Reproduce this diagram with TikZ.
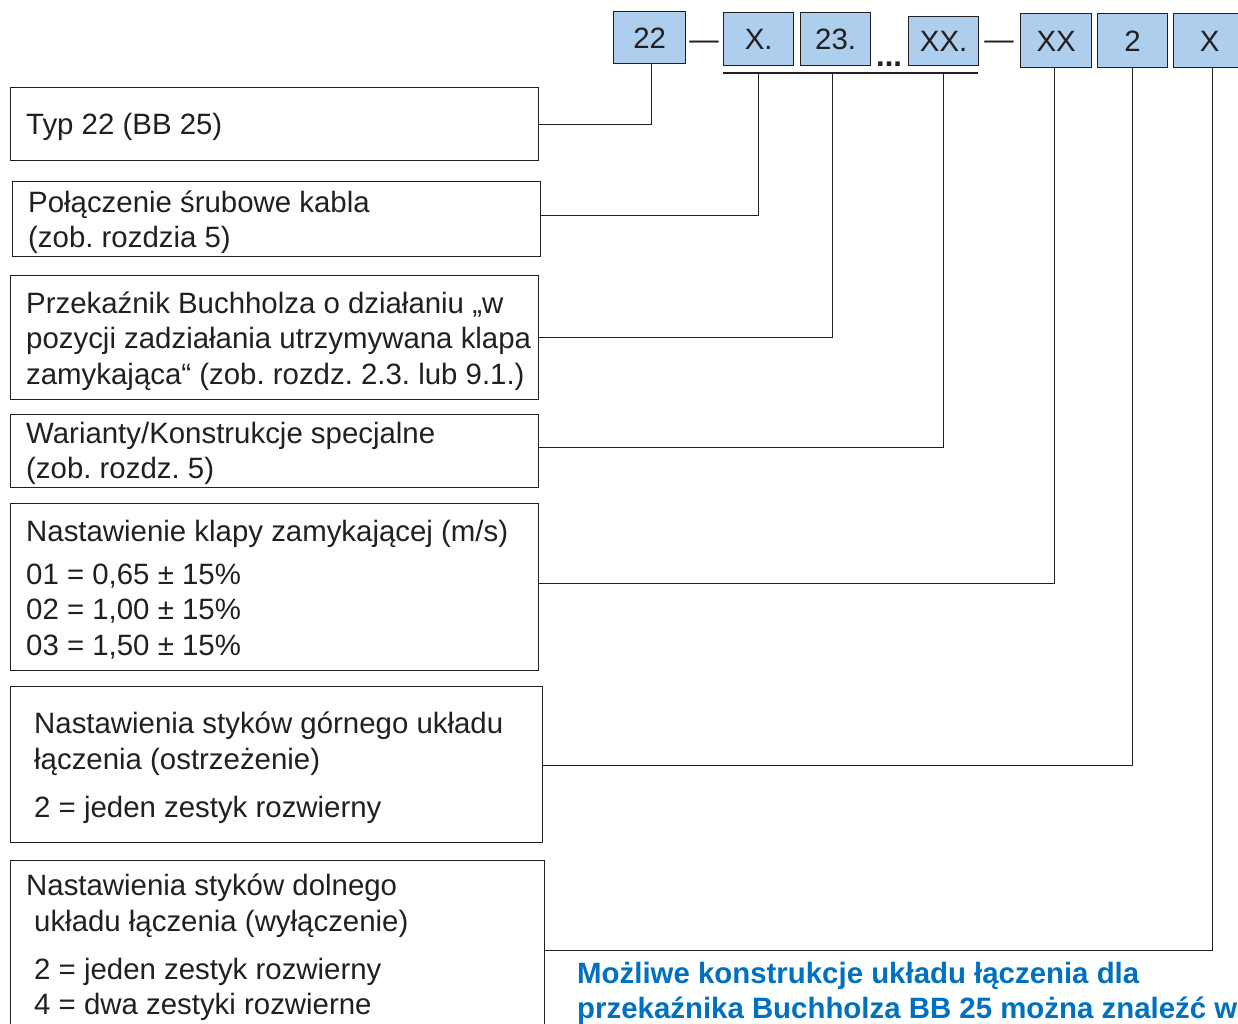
\documentclass[tikz,border=0pt]{standalone}
\usepackage{fontspec}
\setmainfont{Liberation Sans}
\definecolor{boxblue}{RGB}{173,206,236}
\definecolor{txtblue}{RGB}{0,112,192}
\definecolor{ink}{RGB}{35,31,32}
\frenchspacing
\begin{document}
\begin{tikzpicture}[x=1pt,y=-1pt,
  box/.style={draw=ink, line width=1.3pt, rectangle, anchor=north west, inner sep=0pt},
  code/.style={box, fill=boxblue, font=\fontsize{29.4}{35}\selectfont, text=ink, text height=21pt, text depth=0pt, anchor=north west},
  lbl/.style={anchor=base west, inner sep=0pt, font=\fontsize{29.4}{35}\selectfont, text=ink},
  conn/.style={draw=ink, line width=1.2pt},
  note/.style={anchor=base west, inner sep=0pt, font=\fontsize{29.4}{35}\selectfont\bfseries, text=txtblue}]
\useasboundingbox (0,0) rectangle (1238,1023);
\fill[white] (0,0) rectangle (1238,1023);

% code boxes
\node[code, minimum width=72pt, minimum height=52pt] (t22) at (613,11) {22};
\node[code, minimum width=70pt, minimum height=53pt] (tX1) at (723,12) {X.};
\node[code, minimum width=70pt, minimum height=53pt] (t23) at (800,12) {23.};
\node[code, minimum width=70pt, minimum height=49pt] (tXX1) at (908,16) {XX.};
\node[code, minimum width=71pt, minimum height=54pt] (tXX) at (1020,13) {XX};
\node[code, minimum width=70pt, minimum height=54pt] (t2) at (1097,13) {2};
\node[code, minimum width=72pt, minimum height=54pt] (tX) at (1173,13) {X};
\node[lbl, anchor=base] (d1) at (704,49) {—};
\node[lbl, anchor=base] (d2) at (999,49) {—};
\node[lbl, font=\fontsize{31}{35}\selectfont\bfseries] (dots) at (876,66) {...};

\coordinate (barL) at (723,73);
\coordinate (barR) at (978,73);
\draw[conn] (barL) -- (barR);

% left boxes
\node[box, minimum width=528pt, minimum height=73pt] (b1) at (10,87) {};
\node[box, minimum width=528pt, minimum height=75pt] (b2) at (12,181) {};
\node[box, minimum width=528pt, minimum height=124pt] (b3) at (10,275) {};
\node[box, minimum width=528pt, minimum height=73pt] (b4) at (10,414) {};
\node[box, minimum width=528pt, minimum height=167pt] (b5) at (10,503) {};
\node[box, minimum width=532pt, minimum height=156pt] (b6) at (10,686) {};
\node[box, minimum width=534pt, minimum height=180pt] (b7) at (10,860) {};

% texts
\node[lbl] (l1) at (26,134) {Typ 22 (BB 25)};
\node[lbl] (l2a) at (28,212) {Połączenie śrubowe kabla};
\node[lbl] (l2b) at (28,247) {(zob. rozdzia 5)};
\node[lbl] (l3a) at (26,313) {Przekaźnik Buchholza o działaniu „w};
\node[lbl] (l3b) at (26,348) {pozycji zadziałania utrzymywana klapa};
\node[lbl] (l3c) at (26,384) {zamykająca“ (zob. rozdz. 2.3. lub 9.1.)};
\node[lbl] (l4a) at (26,443) {Warianty/Konstrukcje specjalne};
\node[lbl] (l4b) at (26,478) {(zob. rozdz. 5)};
\node[lbl] (l5a) at (26,541) {Nastawienie klapy zamykającej (m/s)};
\node[lbl] (l5b) at (26,584) {01 = 0,65 ± 15\%};
\node[lbl] (l5c) at (26,619) {02 = 1,00 ± 15\%};
\node[lbl] (l5d) at (26,655) {03 = 1,50 ± 15\%};
\node[lbl] (l6a) at (34,733) {Nastawienia styków górnego układu};
\node[lbl] (l6b) at (34,769) {łączenia (ostrzeżenie)};
\node[lbl] (l6c) at (34,817) {2 = jeden zestyk rozwierny};
\node[lbl] (l7a) at (26,895) {Nastawienia styków dolnego};
\node[lbl] (l7b) at (34,931) {układu łączenia (wyłączenie)};
\node[lbl] (l7c) at (34,979) {2 = jeden zestyk rozwierny};
\node[lbl] (l7d) at (34,1014) {4 = dwa zestyki rozwierne};
\node[note] (n1) at (577,983) {Możliwe konstrukcje układu łączenia dla};
\node[note] (n2) at (577,1018) {przekaźnika Buchholza BB 25 można znaleźć w};

% connectors
\draw[conn] ([xshift=2pt]t22.south) |- (b1.east);
\draw[conn] (tX1.south |- barL) |- ([yshift=3.5pt]b2.east);
\draw[conn] ([xshift=-3pt]t23.south |- barL) |- (b3.east);
\draw[conn] (tXX1.south |- barL) |- ([yshift=3.5pt]b4.east);
\draw[conn] ([xshift=-2pt]tXX.south) |- ([yshift=3.5pt]b5.east);
\draw[conn] (t2.south) |- ([yshift=-1pt]b6.east);
\draw[conn] ([xshift=3pt]tX.south) |- (b7.east);
\end{tikzpicture}
\end{document}
